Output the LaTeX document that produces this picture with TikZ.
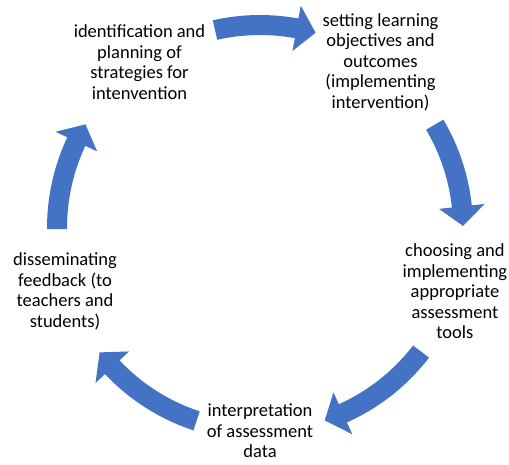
\documentclass[tikz,border=0pt]{standalone}
\usepackage{fontspec}
\setmainfont{Carlito}
\usetikzlibrary{positioning}
\definecolor{cycleblue}{RGB}{68,114,196}

% curved block arrow on the cycle, clockwise from angle #1 (tail) to angle #2 (tip)
\newcommand{\cyclearc}[2]{%
  \fill[blockarrow] (#1:193pt) arc[start angle=#1, end angle=#2+5.5, radius=193pt]
    -- (#2+5.5:180pt) -- (#2:203pt) -- (#2+5.5:226pt) -- (#2+5.5:213pt)
    arc[start angle=#2+5.5, end angle=#1, radius=213pt] -- cycle;}

\begin{document}
\begin{tikzpicture}[
    x=1pt, y=1pt,
    stage/.style={align=center, inner sep=0pt, font=\fontsize{18.5}{20.5}\selectfont},
    blockarrow/.style={fill=cycleblue}
]
    \useasboundingbox (0,0) rectangle (509,464);
    \begin{scope}[shift={(260,236)}]
    % Stages of the cycle
    \node[stage] (ident) at (126:205pt) {identification and\\planning of\\strategies for\\intenvention};
    \node[stage] (setobj) at (54:205pt) {setting learning\\objectives and\\outcomes\\(implementing\\intervention)};
    \node[stage] (choose) at (-18:205pt) {choosing and\\implementing\\appropriate\\assessment\\tools};
    \node[stage] (interp) at (-90:203pt) {interpretation\\of assessment\\data};
    \node[stage] (dissem) at (198:205pt) {disseminating\\feedback (to\\teachers and\\students)};

    % Arrows between stages
    \foreach \tail/\tip in {102.8/74.1, 30.6/0.6, -37.5/-71.4, -108.2/-142.2, 180.3/149.3}
        \cyclearc{\tail}{\tip};
    \end{scope}
\end{tikzpicture}
\end{document}
